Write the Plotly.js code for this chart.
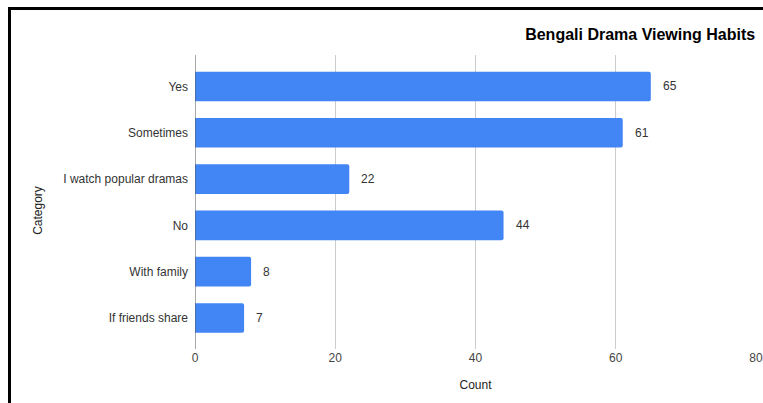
<!DOCTYPE html>
<html>
<head>
<meta charset="utf-8">
<script src="https://cdn.plot.ly/plotly-3.0.1.min.js"></script>
<style>
html,body{margin:0;padding:0;background:#fff;}
#wrap{position:relative;width:763px;height:403px;overflow:hidden;}
#chart{width:763px;height:403px;}
#frame{position:absolute;left:8px;top:7px;width:800px;height:500px;border-top:3px solid #000;border-left:3px solid #000;pointer-events:none;}
</style>
</head>
<body>
<div id="wrap"><div id="chart"></div><div id="frame"></div></div>
<script>
const categories = ["Yes", "Sometimes", "I watch popular dramas", "No", "With family", "If friends share"];
const counts = [65, 61, 22, 44, 8, 7];
const xTicks = [0, 20, 40, 60, 80];

const FONT = "Liberation Sans, Arial, sans-serif";

const trace = {
  type: "bar",
  orientation: "h",
  y: categories,
  x: counts,
  marker: {color: "#4285F4", cornerradius: 2},
  hoverinfo: "x+y"
};

const annotations = counts.map((v, i) => ({
  x: v, y: categories[i], xref: "x", yref: "y",
  text: String(v), showarrow: false, xanchor: "left", yanchor: "middle",
  xshift: 10, font: {family: FONT, size: 12, color: "#333"}
}));

annotations.push({
  text: "Category", xref: "paper", yref: "paper", x: -0.28, y: 0.473,
  xanchor: "center", yanchor: "middle", textangle: -90, showarrow: false,
  font: {family: FONT, size: 12, color: "#222"}
});

const layout = {
  width: 763, height: 403,
  margin: {l: 195, r: 7, t: 55, b: 54, pad: 0},
  paper_bgcolor: "#fff", plot_bgcolor: "#fff",
  bargap: 0.36,
  showlegend: false,
  title: {
    text: "<b>Bengali Drama Viewing Habits</b>",
    x: 0.9985, xanchor: "right", xref: "paper",
    y: 0.915, yanchor: "middle",
    font: {family: FONT, size: 16, color: "#000"}
  },
  xaxis: {
    range: [0, 80], tickvals: xTicks, ticktext: xTicks.map(String),
    showgrid: true, gridcolor: "#cccccc", gridwidth: 1,
    zeroline: false, showline: false, ticks: "",
    tickfont: {family: FONT, size: 12, color: "#444"},
    title: {text: "Count", standoff: 16, font: {family: FONT, size: 12, color: "#222"}},
    fixedrange: true
  },
  yaxis: {
    type: "category", categoryorder: "array", categoryarray: categories,
    range: [5.67, -0.68],
    showgrid: false, zeroline: false, showline: false, ticks: "",
    ticklabelstandoff: 6,
    tickfont: {family: FONT, size: 12, color: "#333"},
    fixedrange: true
  },
  shapes: [{
    type: "line", xref: "x", yref: "paper", x0: 0, x1: 0, y0: 0, y1: 1,
    line: {color: "#555", width: 1}
  }],
  annotations: annotations
};

Plotly.newPlot("chart", [trace], layout, {displayModeBar: false, staticPlot: true});
</script>
</body>
</html>
